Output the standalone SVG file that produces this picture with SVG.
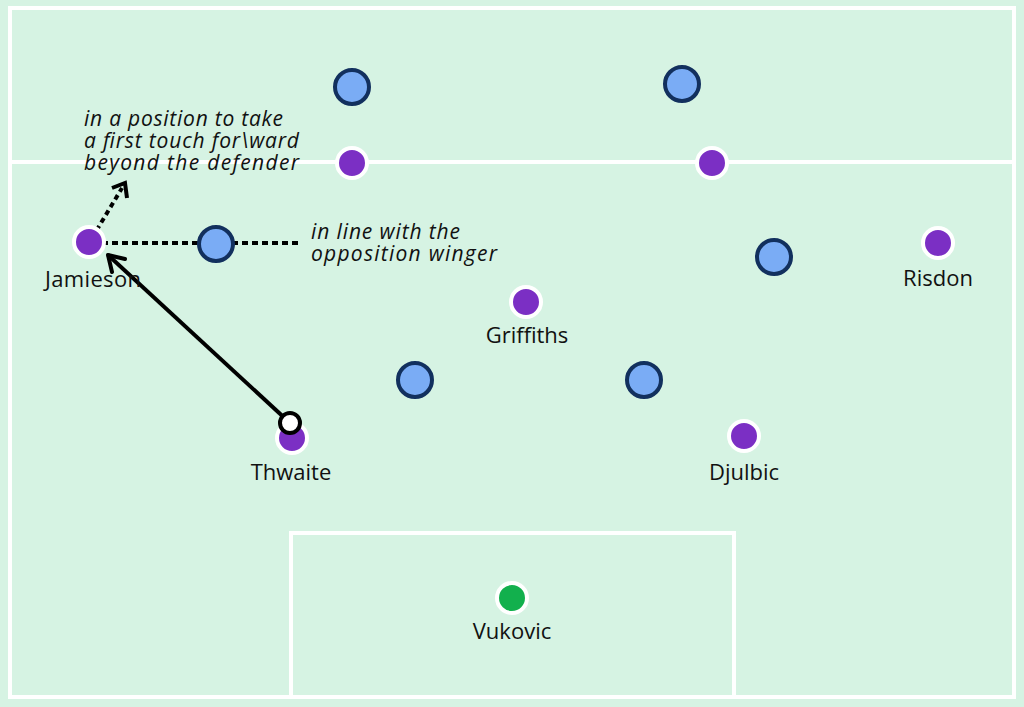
<svg xmlns="http://www.w3.org/2000/svg" width="1024" height="707" viewBox="0 0 1024 707">
<defs>
<style>
.line{fill:none;stroke:#fff;stroke-width:4}
.p{fill:#7b2fc4;stroke:#fff;stroke-width:4}
.b{fill:#7aacf5;stroke:#12305e;stroke-width:4}
.g{fill:#12b04d;stroke:#fff;stroke-width:4}
.lbl{font-family:"Open Sans","Liberation Sans",sans-serif;font-size:22px;font-weight:500;fill:#111;text-anchor:middle}
.note{font-family:"Open Sans","Liberation Sans",sans-serif;font-size:21px;font-weight:500;font-style:italic;fill:#111}
</style>
</defs>
<rect width="1024" height="707" fill="#d6f3e3"/>
<g id="pitch">
<rect class="line" x="10" y="8" width="1004" height="689"/>
<line class="line" x1="10" y1="162" x2="1014" y2="162"/>
<rect class="line" x="291" y="533" width="443" height="164"/>
</g>
<g id="connectors">
<line x1="290" y1="423" x2="108" y2="255" stroke="#000" stroke-width="4"/>
<path d="M108,255 L112,272 M108,255 L125,259" stroke="#000" stroke-width="4" fill="none" stroke-linecap="round"/>
<line x1="92" y1="243" x2="298" y2="243" stroke="#000" stroke-width="4" stroke-dasharray="6,4"/>
<line x1="92" y1="238" x2="122" y2="188" stroke="#000" stroke-width="4" stroke-dasharray="5,4"/>
<path d="M112,188 L125,183 L127,198" stroke="#000" stroke-width="4" fill="none"/>
</g>
<g id="opponents">
<circle class="b" cx="352" cy="87" r="17"/>
<circle class="b" cx="682" cy="84" r="17"/>
<circle class="b" cx="216" cy="244" r="17"/>
<circle class="b" cx="774" cy="257" r="17"/>
<circle class="b" cx="415" cy="380" r="17"/>
<circle class="b" cx="644" cy="380" r="17"/>
</g>
<g id="players">
<circle class="p" cx="352" cy="163" r="15"/>
<circle class="p" cx="712" cy="163" r="15"/>
<g id="jamieson"><circle class="p" cx="89" cy="242" r="15"/><text class="lbl" x="93" y="287" textLength="96">Jamieson</text></g>
<g id="risdon"><circle class="p" cx="938" cy="243" r="15"/><text class="lbl" x="938" y="286">Risdon</text></g>
<g id="griffiths"><circle class="p" cx="526" cy="302" r="15"/><text class="lbl" x="527" y="343">Griffiths</text></g>
<g id="thwaite"><circle class="p" cx="292" cy="438" r="15"/><text class="lbl" x="291" y="480">Thwaite</text></g>
<g id="djulbic"><circle class="p" cx="744" cy="436" r="15"/><text class="lbl" x="744" y="480">Djulbic</text></g>
<g id="vukovic"><circle class="g" cx="512" cy="598" r="15"/><text class="lbl" x="512" y="639">Vukovic</text></g>
</g>
<g id="ball"><circle cx="290" cy="423" r="10" fill="#fff" stroke="#000" stroke-width="4"/></g>
<g id="notes">
<text class="note" x="84" y="126" textLength="199">in a position to take</text>
<text class="note" x="84" y="148" textLength="215">a first touch for\ward</text>
<text class="note" x="84" y="170" textLength="215">beyond the defender</text>
<text class="note" x="311" y="239" textLength="149">in line with the</text>
<text class="note" x="311" y="261" textLength="186">opposition winger</text>
</g>
</svg>
